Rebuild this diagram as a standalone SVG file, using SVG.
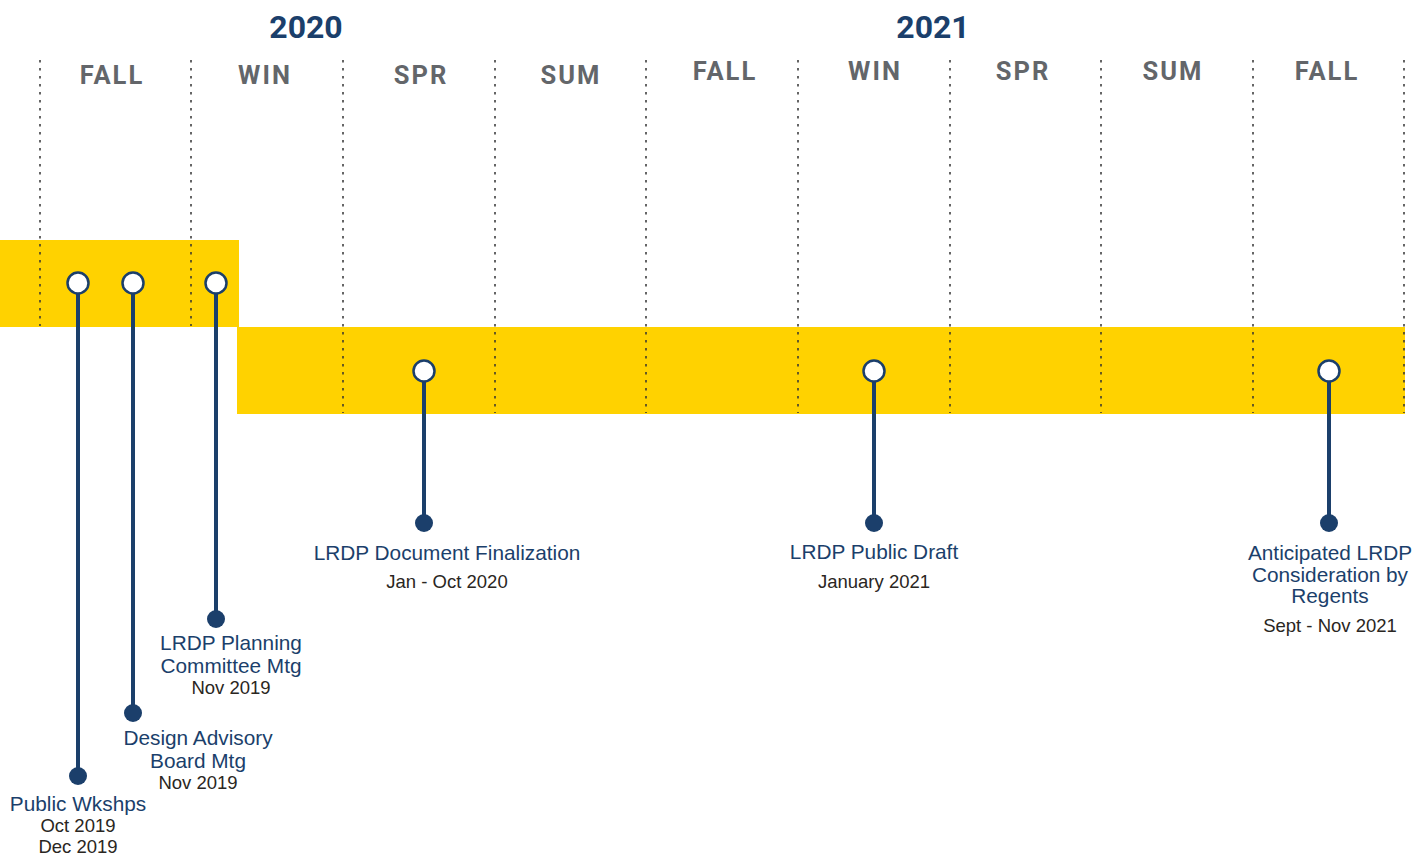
<svg xmlns="http://www.w3.org/2000/svg" width="1424" height="857" viewBox="0 0 1424 857">
<style>
.yr{font-family:Roboto,"Liberation Sans",sans-serif;font-weight:700;font-size:32px;fill:#1b3f6b;text-anchor:middle}
.ss{font-family:Roboto,"Liberation Sans",sans-serif;font-weight:700;font-size:25.5px;fill:#63666a;text-anchor:middle;letter-spacing:2px}
.div{stroke:#333;stroke-width:1.5;stroke-dasharray:2.5 5.5;fill:none}
.band{fill:#ffd200}
.stem{stroke:#1b3f6b;stroke-width:4;fill:none}
.open{fill:#fff;stroke:#1b3f6b;stroke-width:2.5}
.dot{fill:#1b3f6b}
.lbl{font-family:"Liberation Sans",Arial,sans-serif;font-size:20.8px;fill:#1b3f6b;text-anchor:middle}
.dt{font-family:"Liberation Sans",Arial,sans-serif;font-size:18.5px;fill:#2a2622;text-anchor:middle}
</style>
<g id="bands">
<rect class="band" x="0" y="240" width="239" height="87"/>
<rect class="band" x="237" y="327" width="1168" height="87"/>
</g>
<g id="header">
<text class="yr" x="306" y="38">2020</text>
<text class="yr" x="933" y="38">2021</text>
<text class="ss" x="112" y="84">FALL</text>
<text class="ss" x="265" y="84">WIN</text>
<text class="ss" x="421" y="84">SPR</text>
<text class="ss" x="571" y="84">SUM</text>
<text class="ss" x="725" y="80">FALL</text>
<text class="ss" x="875" y="80">WIN</text>
<text class="ss" x="1023" y="80">SPR</text>
<text class="ss" x="1173" y="80">SUM</text>
<text class="ss" x="1327" y="80">FALL</text>
</g>
<g id="dividers">
<line class="div" x1="40" y1="60" x2="40" y2="326"/>
<line class="div" x1="191" y1="60" x2="191" y2="326"/>
<line class="div" x1="343" y1="60" x2="343" y2="413"/>
<line class="div" x1="495" y1="60" x2="495" y2="413"/>
<line class="div" x1="646" y1="60" x2="646" y2="413"/>
<line class="div" x1="798" y1="60" x2="798" y2="413"/>
<line class="div" x1="950" y1="60" x2="950" y2="413"/>
<line class="div" x1="1101" y1="60" x2="1101" y2="413"/>
<line class="div" x1="1253" y1="60" x2="1253" y2="413"/>
<line class="div" x1="1404" y1="60" x2="1404" y2="413"/>
</g>
<g id="connectors">
<line class="stem" x1="78" y1="283" x2="78" y2="776"/>
<line class="stem" x1="133" y1="283" x2="133" y2="713"/>
<line class="stem" x1="216" y1="283" x2="216" y2="619"/>
<line class="stem" x1="424" y1="371" x2="424" y2="523"/>
<line class="stem" x1="874" y1="371" x2="874" y2="523"/>
<line class="stem" x1="1329" y1="371" x2="1329" y2="523"/>
</g>
<g id="node-public-wkshps">
<circle class="open" cx="78" cy="283" r="10.5"/>
<circle class="dot" cx="78" cy="776" r="9"/>
<text class="lbl" x="78" y="811">Public Wkshps</text>
<text class="dt" x="78" y="832">Oct 2019</text>
<text class="dt" x="78" y="853">Dec 2019</text>
</g>
<g id="node-design-advisory">
<circle class="open" cx="133" cy="283" r="10.5"/>
<circle class="dot" cx="133" cy="713" r="9"/>
<text class="lbl" x="198" y="745">Design Advisory</text>
<text class="lbl" x="198" y="768">Board Mtg</text>
<text class="dt" x="198" y="789">Nov 2019</text>
</g>
<g id="node-planning-committee">
<circle class="open" cx="216" cy="283" r="10.5"/>
<circle class="dot" cx="216" cy="619" r="9"/>
<text class="lbl" x="231" y="650">LRDP Planning</text>
<text class="lbl" x="231" y="673">Committee Mtg</text>
<text class="dt" x="231" y="694">Nov 2019</text>
</g>
<g id="node-document-finalization">
<circle class="open" cx="424" cy="371" r="10.5"/>
<circle class="dot" cx="424" cy="523" r="9"/>
<text class="lbl" x="447" y="560">LRDP Document Finalization</text>
<text class="dt" x="447" y="588">Jan - Oct 2020</text>
</g>
<g id="node-public-draft">
<circle class="open" cx="874" cy="371" r="10.5"/>
<circle class="dot" cx="874" cy="523" r="9"/>
<text class="lbl" x="874" y="559">LRDP Public Draft</text>
<text class="dt" x="874" y="588">January 2021</text>
</g>
<g id="node-regents">
<circle class="open" cx="1329" cy="371" r="10.5"/>
<circle class="dot" cx="1329" cy="523" r="9"/>
<text class="lbl" x="1330" y="560">Anticipated LRDP</text>
<text class="lbl" x="1330" y="582">Consideration by</text>
<text class="lbl" x="1330" y="603">Regents</text>
<text class="dt" x="1330" y="632">Sept - Nov 2021</text>
</g>
</svg>
